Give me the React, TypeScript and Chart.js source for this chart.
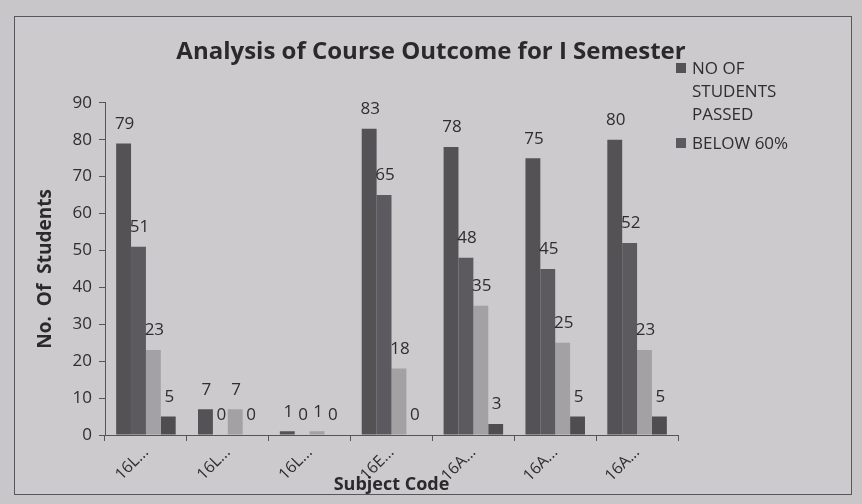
import React, { useEffect, useRef } from "react";
import { Chart, registerables } from "chart.js";

Chart.register(...registerables);

const categories = ["16L...", "16L...", "16L...", "16E...", "16A...", "16A...", "16A..."];
const seriesNames = ["NO OF STUDENTS PASSED", "BELOW 60%", "Series 3", "Series 4"];
const passed = [79, 7, 1, 83, 78, 75, 80];
const below60 = [51, 0, 0, 65, 48, 45, 52];
const series3 = [23, 7, 1, 18, 35, 25, 23];
const series4 = [5, 0, 0, 0, 3, 5, 5];
const yTicks = [0, 10, 20, 30, 40, 50, 60, 70, 80, 90];

const colors = ["#545255", "#5c5a5e", "#a3a1a4", "#4f4d50"];
const FONT = "'Open Sans', sans-serif";

const valueLabels = {
  id: "valueLabels",
  afterDatasetsDraw(chart: any) {
    const ctx = chart.ctx;
    ctx.save();
    ctx.font = `17px ${FONT}`;
    ctx.fillStyle = "#2e2d2f";
    ctx.textAlign = "center";
    ctx.textBaseline = "bottom";
    chart.data.datasets.forEach((ds: any, i: number) => {
      const meta = chart.getDatasetMeta(i);
      meta.data.forEach((bar: any, j: number) => {
        ctx.fillText(String(ds.data[j]), bar.x + 1, bar.y - 11);
      });
    });
    ctx.restore();
  },
};

export default function App() {
  const ref = useRef<HTMLCanvasElement>(null);
  useEffect(() => {
    const chart = new Chart(ref.current!, {
      type: "bar",
      data: {
        labels: categories,
        datasets: [passed, below60, series3, series4].map((d, i) => ({
          label: seriesNames[i],
          data: d,
          backgroundColor: colors[i],
          borderWidth: 0,
          barPercentage: 1,
          categoryPercentage: 4 / 5.5,
        })),
      },
      options: {
        animation: false,
        responsive: false,
        layout: { padding: { top: 20, right: 0, bottom: 8, left: 0 } },
        plugins: {
          legend: { display: false },
          tooltip: { enabled: false },
          title: {
            display: true,
            text: "Analysis of Course Outcome for I Semester",
            color: "#2a292b",
            font: { family: FONT, size: 24, weight: "bold" },
            padding: { top: 18, bottom: 36 },
          },
        },
        scales: {
          x: {
            offset: true,
            grid: { display: true, offset: true, drawOnChartArea: false, drawTicks: true, tickLength: 6, color: "#555" },
            border: { display: true, color: "#555", width: 1 },
            ticks: {
              color: "#2e2d2f",
              font: { family: FONT, size: 16 },
              maxRotation: 45,
              minRotation: 45,
              padding: 2,
            },
            title: {
              display: true,
              text: "Subject Code",
              color: "#2a292b",
              font: { family: FONT, size: 18, weight: "bold" },
              padding: { top: 0, bottom: 0 },
            },
            afterFit(scale: any) {
              scale.height = 61;
            },
          },
          y: {
            min: 0,
            max: 90,
            afterBuildTicks(scale: any) {
              scale.ticks = yTicks.map((v) => ({ value: v }));
            },
            grid: { display: true, drawOnChartArea: false, drawTicks: true, tickLength: 6, color: "#555" },
            border: { display: true, color: "#555", width: 1 },
            ticks: {
              color: "#2e2d2f",
              font: { family: FONT, size: 17 },
              padding: 7,
            },
            title: {
              display: true,
              text: "No.  Of  Students",
              color: "#2a292b",
              font: { family: FONT, size: 19, weight: "bold" },
              padding: { top: 34, bottom: 34 },
            },
            afterFit(scale: any) {
              scale.width = 105;
            },
          },
          yRight: {
            type: "linear",
            position: "right",
            display: true,
            grid: { display: false, drawTicks: false },
            border: { display: false },
            ticks: { display: false },
            afterFit(scale: any) {
              scale.width = 184;
            },
          },
        },
      },
      plugins: [valueLabels],
    } as any);
    return () => chart.destroy();
  }, []);

  const legendText: React.CSSProperties = {
    font: `17px ${FONT}`,
    color: "#2e2d2f",
    lineHeight: "23px",
  };
  const square = (c: string): React.CSSProperties => ({
    position: "absolute",
    left: 0,
    top: 7,
    width: 10,
    height: 10,
    background: c,
  });

  return (
    <div style={{ position: "fixed", left: 0, top: 0, width: 862, height: 504, background: "#c9c6c9", overflow: "hidden" }}>
      <div
        style={{
          position: "absolute",
          left: 14,
          top: 16,
          width: 836,
          height: 477,
          border: "1.5px solid #58565a",
          background: "#cccacd",
        }}
      />
      <canvas ref={ref} width={862} height={504} style={{ position: "absolute", left: 0, top: 0 }} />
      <div style={{ position: "absolute", left: 676, top: 56, width: 160 }}>
        <div style={{ position: "relative", paddingLeft: 16, ...legendText }}>
          <span style={square(colors[0])} />
          NO OF
          <br />
          STUDENTS
          <br />
          PASSED
        </div>
        <div style={{ position: "relative", paddingLeft: 16, marginTop: 6, ...legendText }}>
          <span style={square(colors[1])} />
          BELOW 60%
        </div>
      </div>
    </div>
  );
}
